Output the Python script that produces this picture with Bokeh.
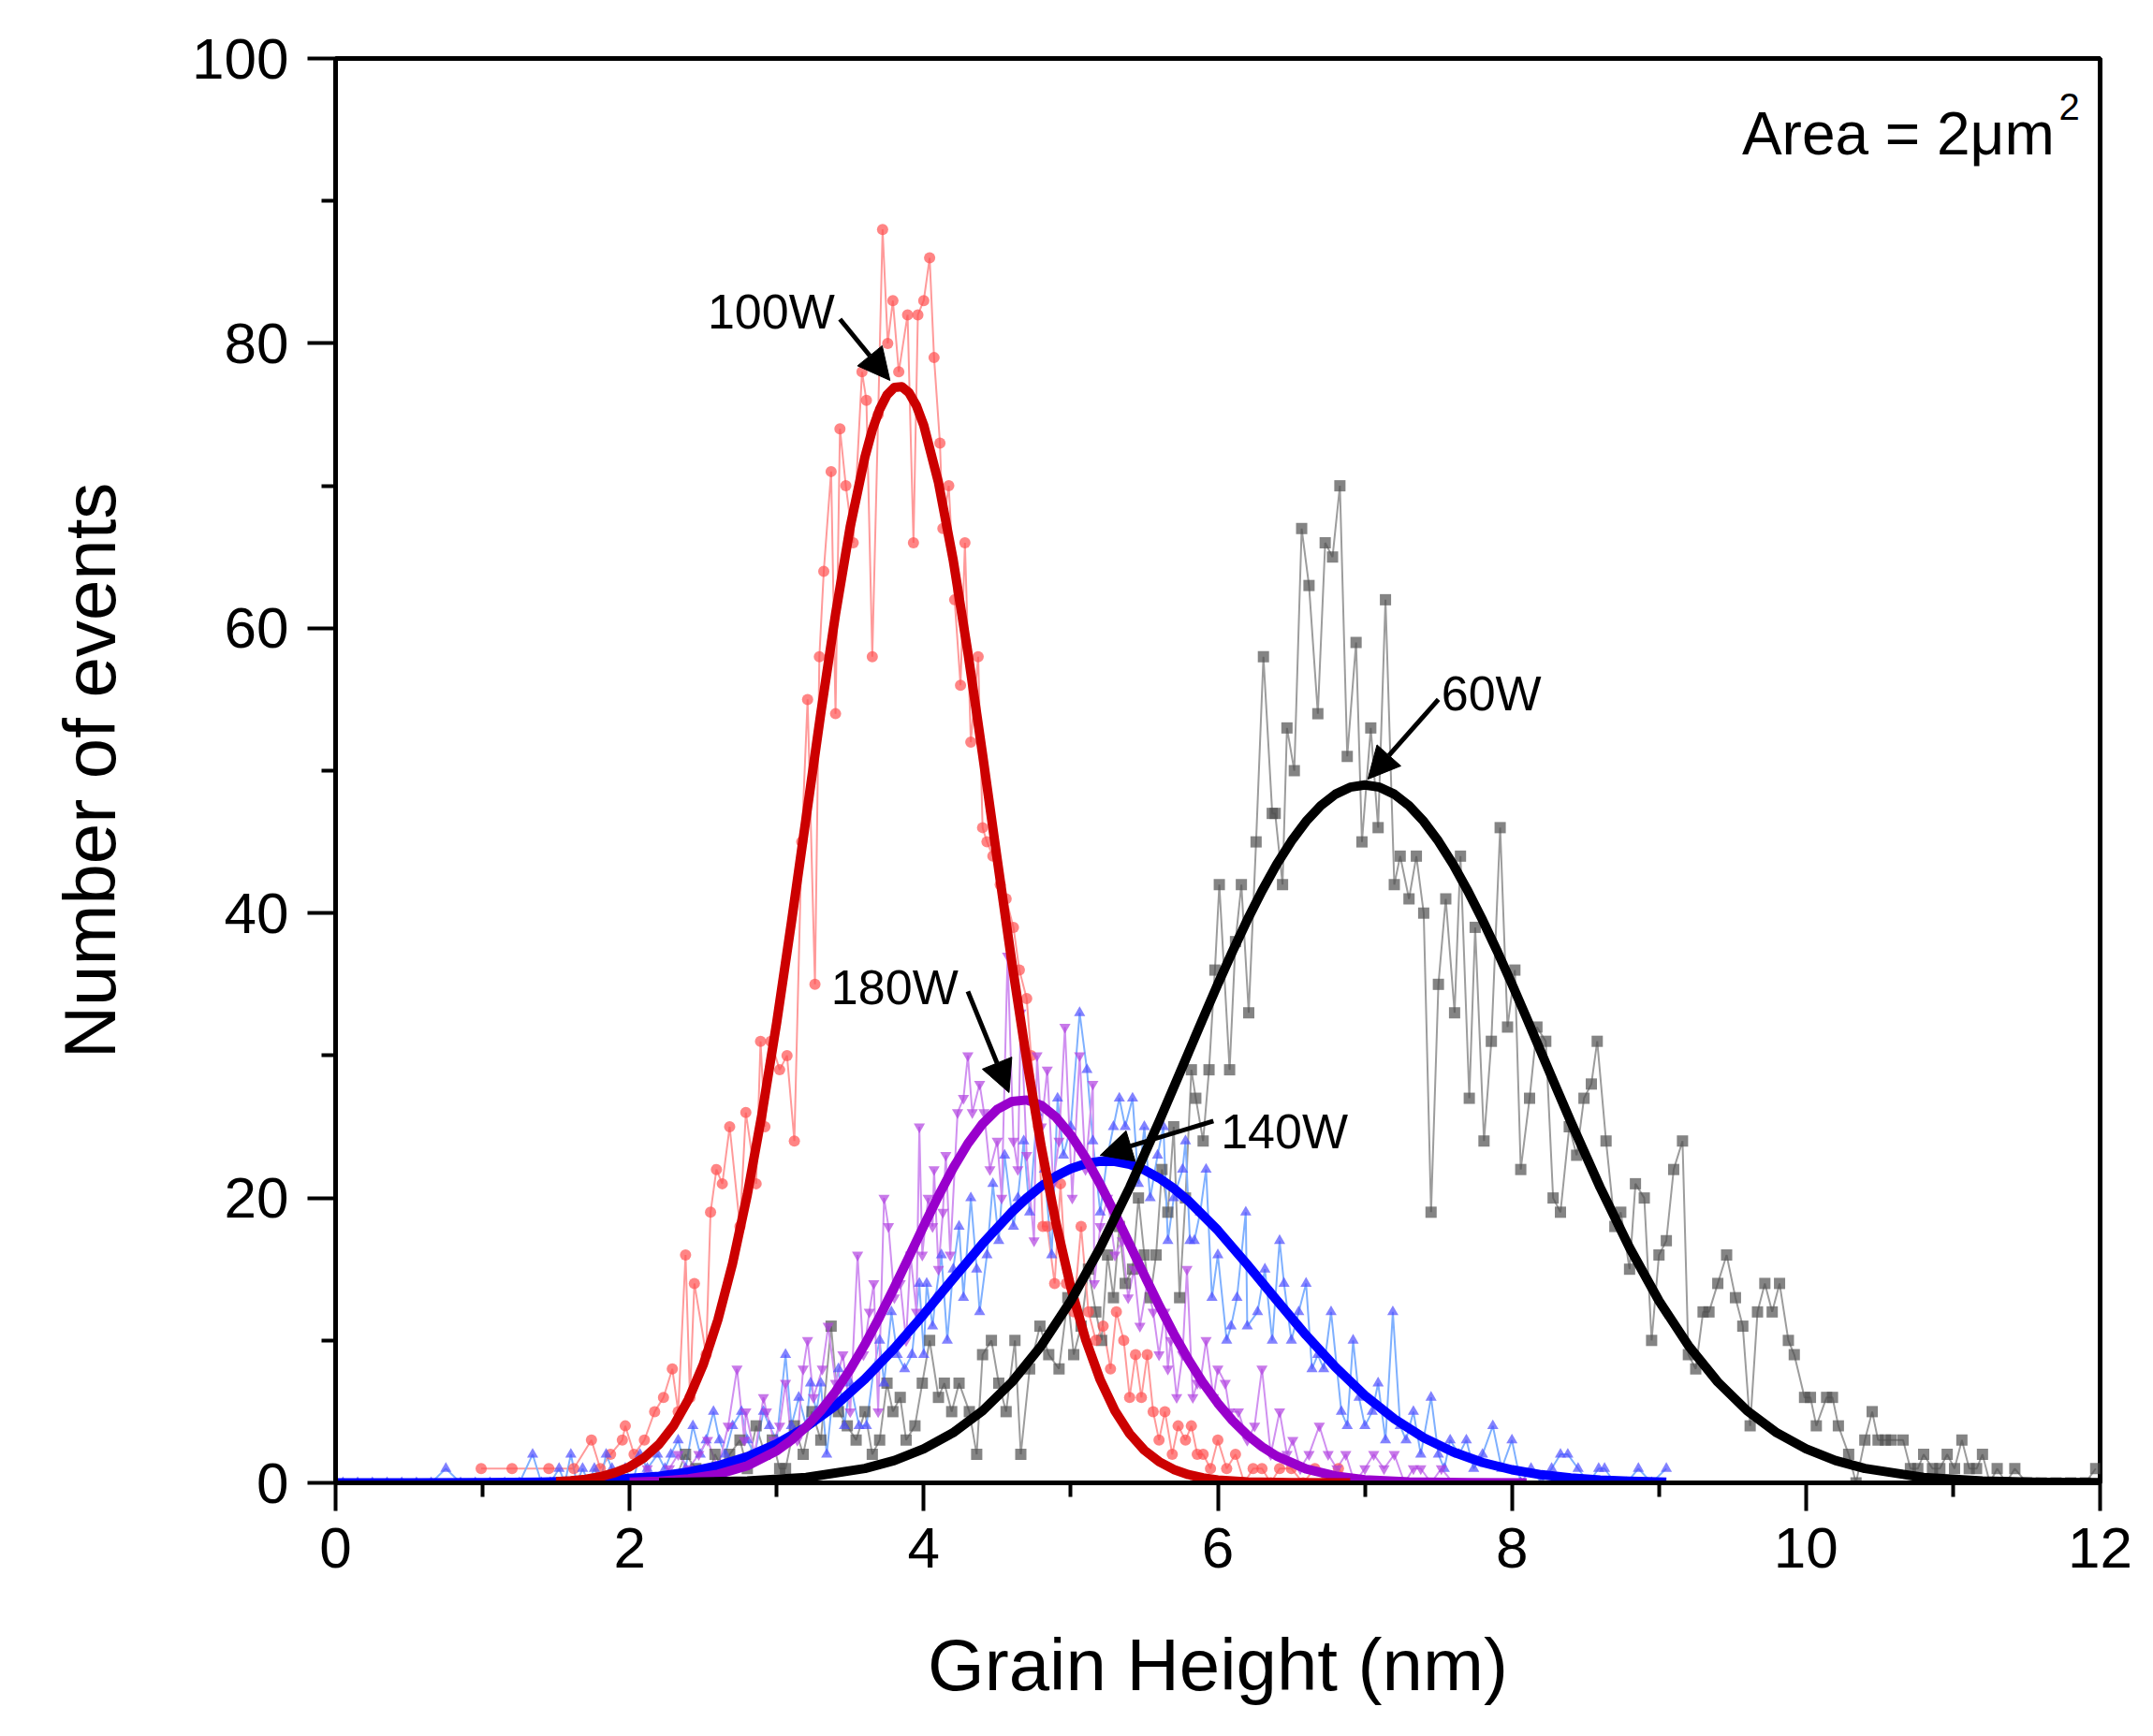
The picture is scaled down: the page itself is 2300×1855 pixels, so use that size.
from bokeh.core.properties import value
from bokeh.embed import file_html
from bokeh.models import Arrow, NormalHead, Range1d, FixedTicker
from bokeh.plotting import figure
from bokeh.resources import INLINE

# ---- measured data (Grain Height nm, Number of events) ----
black_x = [2.30, 2.38, 2.45, 2.52, 2.58, 2.63, 2.68, 2.75, 2.80, 2.86, 2.92, 2.97, 3.02, 3.06, 3.12, 3.18,
           3.24, 3.30, 3.37, 3.42, 3.48, 3.54, 3.60, 3.65, 3.70, 3.75, 3.79, 3.84, 3.88, 3.94, 3.99, 4.04,
           4.10, 4.14, 4.19, 4.24, 4.31, 4.36, 4.40, 4.46, 4.51, 4.56, 4.62, 4.66, 4.72, 4.79, 4.85, 4.92,
           4.98, 5.02, 5.07, 5.12, 5.17, 5.21, 5.25, 5.29, 5.33, 5.37, 5.42, 5.46, 5.50, 5.54, 5.58, 5.62,
           5.66, 5.70, 5.74, 5.78, 5.82, 5.85, 5.90, 5.94, 5.98, 6.01, 6.08, 6.12, 6.16, 6.21, 6.26, 6.31,
           6.37, 6.39, 6.44, 6.47, 6.52, 6.57, 6.62, 6.68, 6.73, 6.78, 6.83, 6.88, 6.94, 6.98, 7.04, 7.09,
           7.14, 7.20, 7.24, 7.30, 7.35, 7.40, 7.45, 7.50, 7.55, 7.61, 7.65, 7.71, 7.75, 7.81, 7.86, 7.92,
           7.97, 8.02, 8.06, 8.12, 8.17, 8.23, 8.28, 8.33, 8.39, 8.44, 8.49, 8.54, 8.58, 8.64, 8.70, 8.74,
           8.80, 8.84, 8.90, 8.95, 9.00, 9.05, 9.10, 9.16, 9.20, 9.25, 9.30, 9.34, 9.40, 9.46, 9.52, 9.57,
           9.62, 9.67, 9.72, 9.77, 9.82, 9.88, 9.92, 9.99, 10.03, 10.07, 10.14, 10.18, 10.22, 10.29, 10.34,
           10.40, 10.45, 10.49, 10.54, 10.58, 10.66, 10.71, 10.76, 10.80, 10.86, 10.91, 10.96, 11.01, 11.06,
           11.11, 11.16, 11.20, 11.25, 11.30, 11.36, 11.42, 11.50, 11.60, 11.70, 11.80, 11.90, 11.97]
black_y = [0, 2, 1, 0, 2, 1, 2, 3, 1, 4, 2, 3, 1, 1, 4, 2,
           5, 3, 11, 5, 4, 3, 5, 2, 3, 7, 5, 6, 3, 4, 7, 10,
           6, 7, 5, 7, 5, 2, 9, 10, 7, 5, 10, 2, 8, 11, 9, 8,
           13, 9, 11, 15, 12, 10, 16, 13, 18, 14, 15, 20, 16, 13, 16, 22,
           19, 25, 13, 20, 29, 27, 24, 29, 36, 42, 29, 38, 42, 33, 45, 58,
           47, 47, 42, 53, 50, 67, 63, 54, 66, 65, 70, 51, 59, 45, 53, 46,
           62, 42, 44, 41, 44, 40, 19, 35, 41, 33, 44, 27, 39, 24, 31, 46,
           32, 36, 22, 27, 32, 31, 20, 19, 25, 23, 27, 28, 31, 24, 18, 19,
           15, 21, 20, 10, 16, 17, 22, 24, 9, 8, 12, 12, 14, 16, 13, 11,
           4, 12, 14, 12, 14, 10, 9, 6, 6, 4, 6, 6, 4, 2, 0,
           3, 5, 3, 3, 3, 3, 1, 1, 2, 1, 1, 2, 1, 3,
           1, 1, 2, 0, 1, 0, 1, 0, 0, 0, 0, 0, 1]

red_x = [0.99, 1.20, 1.45, 1.62, 1.74, 1.80, 1.87, 1.95, 1.97, 2.03, 2.10, 2.17, 2.23, 2.29, 2.33, 2.38,
         2.41, 2.44, 2.52, 2.55, 2.59, 2.63, 2.68, 2.75, 2.79, 2.86, 2.89, 2.92, 2.96, 3.02, 3.07, 3.12,
         3.17, 3.21, 3.26, 3.29, 3.32, 3.37, 3.40, 3.43, 3.47, 3.52, 3.58, 3.61, 3.65, 3.69, 3.72, 3.755,
         3.79, 3.83, 3.89, 3.93, 3.96, 4.00, 4.04, 4.07, 4.11, 4.13, 4.17, 4.21, 4.25, 4.28, 4.32, 4.37,
         4.40, 4.43, 4.47, 4.52, 4.56, 4.61, 4.65, 4.70, 4.73, 4.78, 4.81, 4.84, 4.89, 4.93, 4.97, 5.02,
         5.07, 5.12, 5.17, 5.22, 5.27, 5.31, 5.36, 5.40, 5.44, 5.48, 5.52, 5.56, 5.60, 5.64, 5.69, 5.73,
         5.78, 5.82, 5.86, 5.90, 5.95, 6.00, 6.06, 6.12, 6.18, 6.24, 6.30, 6.36, 6.42, 6.50, 6.58, 6.66,
         6.74, 6.82, 6.90]
red_y = [1, 1, 1, 1, 3, 1, 2, 3, 4, 2, 3, 5, 6, 8, 5, 16,
         6, 14, 9, 19, 22, 21, 25, 18, 26, 21, 31, 25, 31, 29, 30, 24,
         45, 55, 35, 58, 64, 71, 54, 74, 70, 66, 78, 76, 58, 75, 88, 80,
         83, 78, 82, 66, 82, 83, 86, 79, 73, 67, 70, 62, 56, 66, 52, 58,
         46, 45, 44, 42, 41, 39, 36, 34, 30, 25, 18, 18, 14, 21, 14, 12,
         18, 12, 10, 11, 8, 12, 10, 6, 9, 6, 9, 5, 3, 5, 2, 4,
         3, 4, 2, 2, 1, 3, 1, 2, 0, 1, 1, 0, 1, 1, 0, 1,
         0, 1, 0]

blue_x = [0.05, 0.15, 0.25, 0.35, 0.45, 0.55, 0.65, 0.75, 0.85, 0.95, 1.05, 1.15, 1.25, 1.34, 1.40, 1.46,
          1.52, 1.56, 1.60, 1.64, 1.68, 1.72, 1.76, 1.80, 1.84, 1.88, 1.92, 1.97, 2.02, 2.07, 2.12, 2.19,
          2.24, 2.28, 2.33, 2.38, 2.43, 2.48, 2.52, 2.57, 2.61, 2.65, 2.70, 2.76, 2.80, 2.85, 2.91, 2.95,
          3.00, 3.06, 3.10, 3.15, 3.20, 3.23, 3.27, 3.30, 3.34, 3.38, 3.42, 3.46, 3.50, 3.56, 3.61, 3.66,
          3.70, 3.73, 3.78, 3.82, 3.87, 3.92, 3.97, 4.00, 4.02, 4.06, 4.08, 4.12, 4.16, 4.20, 4.24, 4.27,
          4.32, 4.36, 4.38, 4.43, 4.47, 4.51, 4.55, 4.61, 4.64, 4.68, 4.72, 4.77, 4.82, 4.87, 4.91, 4.95,
          5.00, 5.06, 5.11, 5.15, 5.20, 5.25, 5.29, 5.33, 5.37, 5.42, 5.46, 5.50, 5.54, 5.59, 5.63, 5.66,
          5.70, 5.76, 5.78, 5.81, 5.84, 5.88, 5.92, 5.96, 6.00, 6.06, 6.09, 6.13, 6.19, 6.20, 6.27, 6.32,
          6.37, 6.42, 6.45, 6.50, 6.55, 6.60, 6.64, 6.68, 6.72, 6.77, 6.84, 6.88, 6.92, 6.96, 7.00, 7.05,
          7.09, 7.14, 7.19, 7.24, 7.28, 7.33, 7.38, 7.45, 7.50, 7.54, 7.58, 7.64, 7.69, 7.74, 7.80, 7.87,
          7.93, 8.00, 8.06, 8.13, 8.20, 8.27, 8.33, 8.38, 8.45, 8.52, 8.59, 8.63, 8.70, 8.78, 8.86, 8.95,
          9.05]
blue_y = [0, 0, 0, 0, 0, 0, 0, 1, 0, 0, 0, 0, 0, 2, 0, 0,
          1, 0, 2, 0, 1, 0, 1, 0, 2, 1, 0, 1, 0, 2, 1, 2,
          1, 2, 3, 1, 4, 2, 3, 5, 3, 2, 4, 5, 3, 2, 5, 4,
          3, 9, 4, 6, 4, 7, 5, 7, 2, 6, 8, 4, 7, 4, 4, 8,
          10, 7, 12, 9, 8, 9, 14, 9, 14, 11, 13, 16, 10, 15, 18, 13,
          20, 15, 12, 16, 21, 17, 23, 18, 20, 24, 19, 26, 22, 16, 27, 23,
          25, 33, 29, 24, 19, 23, 25, 27, 25, 27, 21, 25, 20, 23, 25, 17,
          20, 22, 24, 17, 17, 19, 22, 13, 16, 10, 11, 13, 19, 11, 12, 15,
          10, 17, 14, 10, 12, 14, 8, 9, 8, 12, 5, 4, 10, 6, 4, 5,
          7, 3, 12, 4, 3, 5, 2, 6, 2, 1, 3, 2, 3, 1, 2, 4,
          1, 3, 0, 1, 0, 1, 2, 2, 1, 0, 1, 1, 0, 0, 1, 0,
          1]

purple_x = [2.05, 2.12, 2.20, 2.27, 2.33, 2.40, 2.47, 2.53, 2.60, 2.67, 2.73, 2.78, 2.79, 2.85, 2.91, 2.93,
            2.98, 3.02, 3.06, 3.10, 3.14, 3.18, 3.21, 3.25, 3.31, 3.35, 3.40, 3.45, 3.50, 3.55, 3.59, 3.63,
            3.66, 3.69, 3.73, 3.76, 3.80, 3.84, 3.88, 3.91, 3.95, 3.97, 3.99, 4.03, 4.06, 4.07, 4.10, 4.13,
            4.15, 4.18, 4.23, 4.27, 4.30, 4.33, 4.38, 4.41, 4.45, 4.50, 4.53, 4.57, 4.61, 4.64, 4.66, 4.70,
            4.75, 4.77, 4.80, 4.84, 4.88, 4.92, 4.96, 5.01, 5.06, 5.10, 5.15, 5.16, 5.20, 5.25, 5.30, 5.35,
            5.39, 5.43, 5.47, 5.52, 5.56, 5.60, 5.64, 5.66, 5.68, 5.72, 5.76, 5.79, 5.83, 5.86, 5.88, 5.92,
            5.97, 6.00, 6.05, 6.08, 6.14, 6.20, 6.25, 6.30, 6.36, 6.42, 6.47, 6.51, 6.56, 6.62, 6.69, 6.75,
            6.81, 6.87, 6.93, 7.00, 7.06, 7.13, 7.20, 7.27, 7.33, 7.38, 7.45, 7.52, 7.60]
purple_y = [0, 1, 0, 1, 2, 1, 2, 3, 1, 4, 8, 3, 5, 2, 6, 5,
            3, 4, 7, 3, 3, 8, 10, 6, 8, 11, 7, 9, 5, 16, 9, 12,
            14, 5, 20, 18, 13, 14, 10, 16, 12, 25, 16, 20, 18, 22, 15, 19,
            23, 16, 26, 27, 30, 26, 28, 26, 22, 24, 20, 37, 24, 22, 33, 23,
            17, 30, 25, 29, 21, 24, 32, 20, 30, 22, 28, 14, 18, 20, 16, 17,
            13, 15, 11, 14, 12, 9, 12, 8, 10, 6, 9, 15, 6, 7, 7, 10,
            6, 8, 7, 5, 5, 3, 4, 8, 2, 5, 2, 3, 1, 2, 4, 2,
            1, 2, 0, 1, 2, 1, 2, 0, 1, 1, 0, 1, 0]

# ---- Gaussian fit curves ----
red_fit_x = [1.5, 1.6, 1.7, 1.8, 1.9, 2.0, 2.1, 2.2, 2.3, 2.4, 2.5, 2.6, 2.7, 2.8, 2.9, 3.0,
             3.1, 3.2, 3.3, 3.4, 3.5, 3.6, 3.65, 3.7, 3.75, 3.8, 3.85, 3.9, 3.95, 4.0, 4.1, 4.2,
             4.3, 4.4, 4.5, 4.6, 4.7, 4.8, 4.9, 5.0, 5.1, 5.2, 5.3, 5.4, 5.5, 5.6, 5.7, 5.8,
             5.9, 6.0, 6.2, 6.5, 6.9]
red_fit_y = [0.08, 0.15, 0.25, 0.43, 0.71, 1.13, 1.78, 2.71, 4.03, 5.86, 8.29, 11.45, 15.41, 20.23, 25.91, 32.33,
             39.35, 46.70, 54.05, 60.99, 67.14, 72.03, 73.92, 75.37, 76.38, 76.91, 76.96, 76.53, 75.62, 74.25, 70.23, 64.80,
             58.30, 51.14, 43.75, 36.48, 29.68, 23.54, 18.20, 13.73, 10.09, 7.23, 5.06, 3.45, 2.29, 1.49, 0.94, 0.58,
             0.35, 0.20, 0.06, 0.01, 0.0]

purple_fit_x = [2.0, 2.2, 2.4, 2.6, 2.8, 3.0, 3.1, 3.2, 3.3, 3.4, 3.5, 3.6, 3.7, 3.8, 3.9, 4.0,
                4.1, 4.2, 4.3, 4.4, 4.5, 4.6, 4.7, 4.8, 4.9, 5.0, 5.1, 5.2, 5.3, 5.4, 5.5, 5.6,
                5.7, 5.8, 5.9, 6.0, 6.1, 6.2, 6.3, 6.4, 6.6, 6.8, 7.0, 7.3, 7.7, 8.1]
purple_fit_y = [0.05, 0.12, 0.28, 0.60, 1.20, 2.25, 3.01, 3.94, 5.07, 6.41, 7.97, 9.72, 11.66, 13.73, 15.88, 18.05,
                20.15, 22.10, 23.82, 25.21, 26.22, 26.78, 26.88, 26.50, 25.66, 24.42, 22.83, 20.96, 18.90, 16.75, 14.58, 12.47,
                10.47, 8.65, 7.01, 5.59, 4.37, 3.36, 2.54, 1.88, 0.98, 0.48, 0.22, 0.06, 0.01, 0.0]

blue_fit_x = [0.0, 0.5, 1.0, 1.4, 1.8, 2.2, 2.4, 2.6, 2.8, 3.0, 3.2, 3.4, 3.6, 3.8, 4.0, 4.2,
              4.4, 4.6, 4.7, 4.8, 4.9, 5.0, 5.1, 5.2, 5.3, 5.4, 5.5, 5.6, 5.7, 5.8, 6.0, 6.2,
              6.4, 6.6, 6.8, 7.0, 7.2, 7.4, 7.6, 7.8, 8.0, 8.2, 8.4, 8.6, 8.8, 9.05]
blue_fit_y = [0.0, 0.0, 0.01, 0.05, 0.16, 0.46, 0.76, 1.20, 1.84, 2.73, 3.92, 5.43, 7.29, 9.44, 11.83, 14.34,
              16.79, 19.02, 19.99, 20.83, 21.53, 22.06, 22.41, 22.58, 22.57, 22.36, 21.97, 21.40, 20.67, 19.80, 17.73, 15.33,
              12.83, 10.37, 8.12, 6.14, 4.49, 3.17, 2.17, 1.43, 0.92, 0.57, 0.34, 0.19, 0.11, 0.05]

black_fit_x = [2.2, 2.8, 3.2, 3.6, 3.8, 4.0, 4.2, 4.4, 4.6, 4.8, 5.0, 5.2, 5.4, 5.6, 5.7, 5.8,
               5.9, 6.0, 6.1, 6.2, 6.3, 6.4, 6.5, 6.6, 6.7, 6.8, 6.9, 7.0, 7.1, 7.2, 7.3, 7.4,
               7.5, 7.6, 7.7, 7.8, 7.9, 8.0, 8.1, 8.2, 8.3, 8.4, 8.6, 8.8, 9.0, 9.2, 9.4, 9.6,
               9.8, 10.0, 10.2, 10.4, 10.8, 11.2, 11.6, 12.0]
black_fit_y = [0.02, 0.13, 0.38, 1.01, 1.57, 2.39, 3.52, 5.06, 7.08, 9.64, 12.78, 16.51, 20.74, 25.36, 27.77, 30.20,
               32.63, 35.02, 37.32, 39.52, 41.56, 43.42, 45.05, 46.44, 47.54, 48.35, 48.84, 49.0, 48.84, 48.35, 47.54, 46.44,
               45.05, 43.42, 41.56, 39.52, 37.32, 35.02, 32.63, 30.20, 27.77, 25.36, 20.74, 16.51, 12.78, 9.64, 7.08, 5.06,
               3.52, 2.39, 1.57, 1.01, 0.38, 0.13, 0.04, 0.01]

# annotation labels: (text, text x, text y, arrow tail x, tail y, tip x, tip y)
labels = [
    ("100W", 2.53, 82.2, 3.43, 81.7, 3.77, 77.4),
    ("60W", 7.52, 55.4, 7.50, 55.0, 7.02, 49.4),
    ("180W", 3.37, 34.8, 4.30, 34.5, 4.58, 27.4),
    ("140W", 6.02, 24.7, 5.97, 25.4, 5.20, 23.0),
]

FONT = "Liberation Sans"

p = figure(width=2284, height=1839, frame_width=1885, frame_height=1522,
           min_border_left=358, min_border_right=41, min_border_top=62, min_border_bottom=255,
           x_range=Range1d(0, 12), y_range=Range1d(0, 100),
           output_backend="svg", toolbar_location=None,
           x_axis_label="Grain Height (nm)", y_axis_label="Number of events")
p.background_fill_color = "white"
p.border_fill_color = "white"
p.grid.visible = False
p.outline_line_color = "black"
p.outline_line_width = 5

p.xaxis.ticker = FixedTicker(ticks=[0, 2, 4, 6, 8, 10, 12], minor_ticks=[1, 3, 5, 7, 9, 11])
p.yaxis.ticker = FixedTicker(ticks=[0, 20, 40, 60, 80, 100], minor_ticks=[10, 30, 50, 70, 90])
for ax in (p.xaxis, p.yaxis):
    ax.axis_line_width = 5
    ax.major_tick_line_width = 4
    ax.minor_tick_line_width = 4
    ax.major_tick_out = 30
    ax.major_tick_in = 0
    ax.minor_tick_out = 15
    ax.minor_tick_in = 0
    ax.major_label_text_font = FONT
    ax.major_label_text_font_size = "62px"
    ax.major_label_text_color = "black"
    ax.axis_label_text_font = FONT
    ax.axis_label_text_font_size = "78px"
    ax.axis_label_text_font_style = "normal"
    ax.axis_label_text_color = "black"
p.xaxis.major_label_standoff = 18
p.yaxis.major_label_standoff = 20
p.xaxis.axis_label_standoff = 57
p.yaxis.axis_label_standoff = 62

# raw data: thin connecting lines + semi-transparent markers
series = [
    (black_x, black_y, "#9c9c9c", "#505050", "square"),
    (red_x, red_y, "#ff9a9a", "#ff5050", "circle"),
    (blue_x, blue_y, "#7fb0ff", "#4d4dff", "triangle"),
    (purple_x, purple_y, "#d090f0", "#b040e0", "inverted_triangle"),
]
for xs, ys, lc, mc, mk in series:
    p.line(xs, ys, line_color=lc, line_width=2)
for xs, ys, lc, mc, mk in series:
    p.scatter(xs, ys, marker=mk, size=12, fill_color=mc, fill_alpha=0.7, line_color=None)

# fits
p.line(blue_fit_x, blue_fit_y, line_color="#0000ff", line_width=10, line_join="round")
p.line(purple_fit_x, purple_fit_y, line_color="#9900cc", line_width=10, line_join="round")
p.line(red_fit_x, red_fit_y, line_color="#cc0000", line_width=10, line_join="round")
p.line(black_fit_x, black_fit_y, line_color="#000000", line_width=10, line_join="round")

for txt, tx, ty, x0, y0, x1, y1 in labels:
    p.text([tx], [ty], text=[txt], text_font=value(FONT), text_font_size="52px",
           text_color="black", text_align="left", text_baseline="alphabetic")
    p.add_layout(Arrow(x_start=x0, y_start=y0, x_end=x1, y_end=y1, line_width=5, line_color="black",
                       end=NormalHead(size=34, fill_color="black", line_color="black", line_width=1)))

p.text([11.69], [94.74], text=["Area = 2\u03bcm"], text_font=value(FONT), text_font_size="64px",
       text_color="black", text_align="right", text_baseline="alphabetic")
p.text([11.72], [96.6], text=["2"], text_font=value(FONT), text_font_size="40px",
       text_color="black", text_align="left", text_baseline="alphabetic")

open("out.html", "w").write(file_html(p, INLINE))
